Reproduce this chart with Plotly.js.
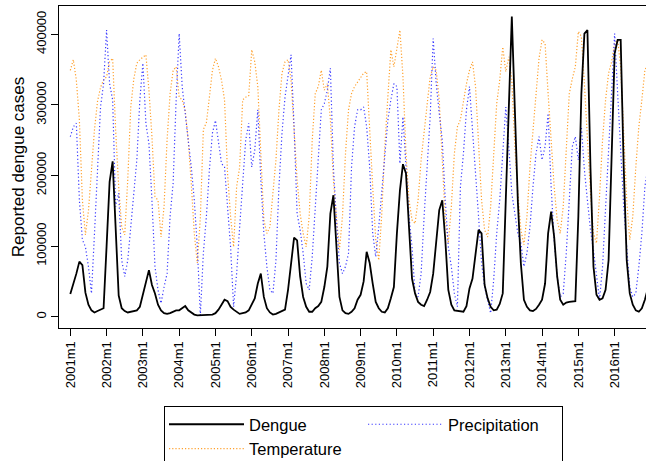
<!DOCTYPE html>
<html>
<head>
<meta charset="utf-8">
<script src="https://cdn.plot.ly/plotly-3.0.1.min.js"></script>
<style>
html,body{margin:0;padding:0;overflow:hidden;background:#fff;}
#chart{width:660px;height:480px;}
</style>
</head>
<body>
<div id="chart"></div>
<script>
// Monthly series, 2001m1 .. 2016m12
const dengue = [
  32000, 45000, 61000, 78000, 73000, 34000, 17000, 9000, 6000, 8000, 10000, 12000,
  100000, 191000, 220000, 120000, 30000, 12000, 8000, 6000, 7000, 8000, 9000, 14000,
  30000, 47000, 66000, 45000, 33000, 17000, 9000, 5000, 4000, 5000, 7000, 9000,
  9000, 12000, 15000, 9000, 6000, 3000, 2000, 2000, 2000, 2000, 3000, 3000,
  5000, 10000, 17000, 24000, 22000, 14000, 10000, 7000, 4000, 5000, 6000, 9000,
  17000, 26000, 47000, 61000, 28000, 12000, 6000, 3000, 4000, 6000, 9000, 10000,
  38000, 76000, 112000, 108000, 57000, 28000, 14000, 7000, 7000, 12000, 15000, 21000,
  42000, 71000, 146000, 172000, 95000, 28000, 9000, 5000, 4000, 7000, 12000, 24000,
  31000, 50000, 92000, 76000, 47000, 21000, 12000, 7000, 6000, 12000, 26000, 42000,
  118000, 179000, 216000, 203000, 127000, 54000, 33000, 21000, 17000, 15000, 24000, 35000,
  61000, 109000, 151000, 165000, 109000, 38000, 17000, 9000, 8000, 7000, 7000, 15000,
  40000, 54000, 92000, 123000, 118000, 45000, 26000, 14000, 9000, 10000, 18000, 33000,
  165000, 300000, 425000, 294000, 162000, 75000, 24000, 14000, 9000, 8000, 11000, 17000,
  24000, 47000, 118000, 149000, 113000, 57000, 24000, 17000, 20000, 21000, 21000, 22000,
  142000, 316000, 401000, 406000, 212000, 71000, 31000, 24000, 26000, 38000, 80000, 224000,
  373000, 392000, 392000, 212000, 80000, 33000, 17000, 9000, 7000, 12000, 24000, 40000
];
const precipitation = [
  255000, 269000, 274000, 165000, 109000, 99000, 71000, 33000, 118000, 212000, 297000, 330000,
  406000, 330000, 307000, 156000, 175000, 80000, 57000, 80000, 127000, 165000, 222000, 307000,
  359000, 274000, 245000, 165000, 71000, 38000, 19000, 42000, 61000, 142000, 189000, 307000,
  401000, 326000, 283000, 250000, 212000, 165000, 99000, 2000, 90000, 142000, 208000, 260000,
  278000, 250000, 217000, 212000, 160000, 99000, 14000, 61000, 127000, 184000, 250000, 274000,
  212000, 236000, 293000, 194000, 118000, 71000, 38000, 33000, 80000, 184000, 260000, 311000,
  340000, 371000, 269000, 146000, 123000, 90000, 47000, 38000, 85000, 156000, 236000, 293000,
  302000, 321000, 352000, 212000, 137000, 76000, 61000, 71000, 90000, 212000, 269000, 293000,
  293000, 297000, 269000, 212000, 118000, 85000, 127000, 175000, 231000, 278000, 307000, 330000,
  326000, 217000, 283000, 212000, 142000, 99000, 33000, 28000, 61000, 142000, 212000, 283000,
  394000, 330000, 288000, 250000, 165000, 99000, 71000, 33000, 14000, 184000, 231000, 293000,
  326000, 269000, 212000, 142000, 76000, 42000, 24000, 5000, 52000, 118000, 165000, 236000,
  297000, 241000, 175000, 146000, 118000, 104000, 71000, 90000, 127000, 184000, 231000, 255000,
  222000, 241000, 288000, 184000, 109000, 57000, 28000, 33000, 90000, 165000, 241000, 255000,
  222000, 269000, 208000, 165000, 123000, 94000, 57000, 24000, 71000, 156000, 222000, 307000,
  401000, 316000, 236000, 156000, 99000, 42000, 28000, 33000, 71000, 118000, 184000, 212000
];
const temperature = [
  349000, 364000, 335000, 279000, 165000, 116000, 150000, 205000, 265000, 305000, 325000, 335000,
  340000, 361000, 366000, 264000, 184000, 127000, 116000, 194000, 297000, 337000, 359000, 364000,
  368000, 371000, 321000, 255000, 170000, 165000, 113000, 156000, 250000, 316000, 349000, 354000,
  311000, 307000, 292000, 250000, 189000, 118000, 76000, 140000, 265000, 275000, 311000, 349000,
  366000, 354000, 335000, 307000, 203000, 142000, 99000, 184000, 212000, 307000, 311000, 313000,
  378000, 361000, 326000, 222000, 137000, 118000, 127000, 175000, 222000, 293000, 345000, 361000,
  364000, 335000, 269000, 194000, 146000, 118000, 99000, 142000, 250000, 316000, 326000, 349000,
  321000, 330000, 279000, 194000, 142000, 95000, 142000, 231000, 293000, 316000, 326000, 333000,
  340000, 345000, 347000, 260000, 184000, 109000, 80000, 146000, 241000, 311000, 378000, 354000,
  380000, 406000, 340000, 231000, 165000, 137000, 132000, 165000, 222000, 260000, 302000, 340000,
  354000, 349000, 307000, 212000, 137000, 104000, 156000, 231000, 269000, 279000, 307000, 330000,
  349000, 361000, 326000, 245000, 165000, 123000, 113000, 156000, 222000, 302000, 335000, 382000,
  347000, 368000, 335000, 241000, 175000, 123000, 102000, 142000, 212000, 264000, 326000, 366000,
  392000, 387000, 316000, 241000, 184000, 137000, 118000, 156000, 241000, 316000, 337000, 354000,
  404000, 397000, 330000, 250000, 175000, 118000, 104000, 170000, 250000, 307000, 345000, 361000,
  387000, 392000, 354000, 260000, 165000, 109000, 142000, 212000, 269000, 307000, 349000, 360000
];
const xTickLabels = ['2001m1','2002m1','2003m1','2004m1','2005m1','2006m1','2007m1','2008m1',
  '2009m1','2010m1','2011m1','2012m1','2013m1','2014m1','2015m1','2016m1'];
const yTickValues = [0, 100000, 200000, 300000, 400000];
const yTickLabels = ['0', '100000', '200000', '300000', '400000'];

// month index along the time axis (0 = 2001m1)
const monthIndex = dengue.map((_, i) => i);
const xTickValues = xTickLabels.map((_, i) => i * 12);

const traces = [
  {x: monthIndex, y: temperature, type: 'scatter', mode: 'lines', name: 'Temperature',
   legendgroup: 'a', legendrank: 2,
   line: {color: '#ffa12e', width: 1.2, dash: '1.2px,2px'}},
  {x: monthIndex, y: precipitation, type: 'scatter', mode: 'lines', name: 'Precipitation',
   legendgroup: 'b', legendrank: 3,
   line: {color: '#3a3aff', width: 1.2, dash: '1.2px,2.4px'}},
  {x: monthIndex, y: dengue, type: 'scatter', mode: 'lines', name: 'Dengue',
   legendgroup: 'a', legendrank: 1,
   line: {color: '#000000', width: 1.8}}
];

const axisCommon = {
  showgrid: false, zeroline: false, showline: true, mirror: true,
  linecolor: '#000', linewidth: 1, ticks: 'outside', ticklen: 7,
  tickwidth: 1, tickcolor: '#000', tickfont: {size: 13, color: '#000'}
};

const layout = {
  width: 660, height: 480,
  margin: {l: 59, r: 0, t: 6, b: 152, autoexpand: false},
  paper_bgcolor: '#fff', plot_bgcolor: '#fff',
  font: {family: '"Liberation Sans", Arial, sans-serif', color: '#000'},
  showlegend: true,
  xaxis: Object.assign({}, axisCommon, {
    range: [-3.737, 195.0], tickvals: xTickValues, ticktext: xTickLabels, tickangle: -90
  }),
  yaxis: Object.assign({}, axisCommon, {
    range: [-16006, 440085], tickvals: yTickValues, ticktext: yTickLabels, tickangle: -90,
    title: {text: 'Reported dengue cases', font: {size: 17, color: '#000'}, standoff: 4}
  }),
  legend: {
    orientation: 'h', traceorder: 'grouped', tracegroupgap: 0,
    entrywidth: 109, entrywidthmode: 'pixels',
    xref: 'container', yref: 'container',
    x: 164 / 660, y: 1 - 406 / 480, xanchor: 'left', yanchor: 'top',
    bordercolor: '#000', borderwidth: 1, bgcolor: '#fff',
    font: {size: 16.5, color: '#000'}, itemwidth: 75
  }
};

Plotly.newPlot('chart', traces, layout, {displayModeBar: false, staticPlot: true});
</script>
</body>
</html>
